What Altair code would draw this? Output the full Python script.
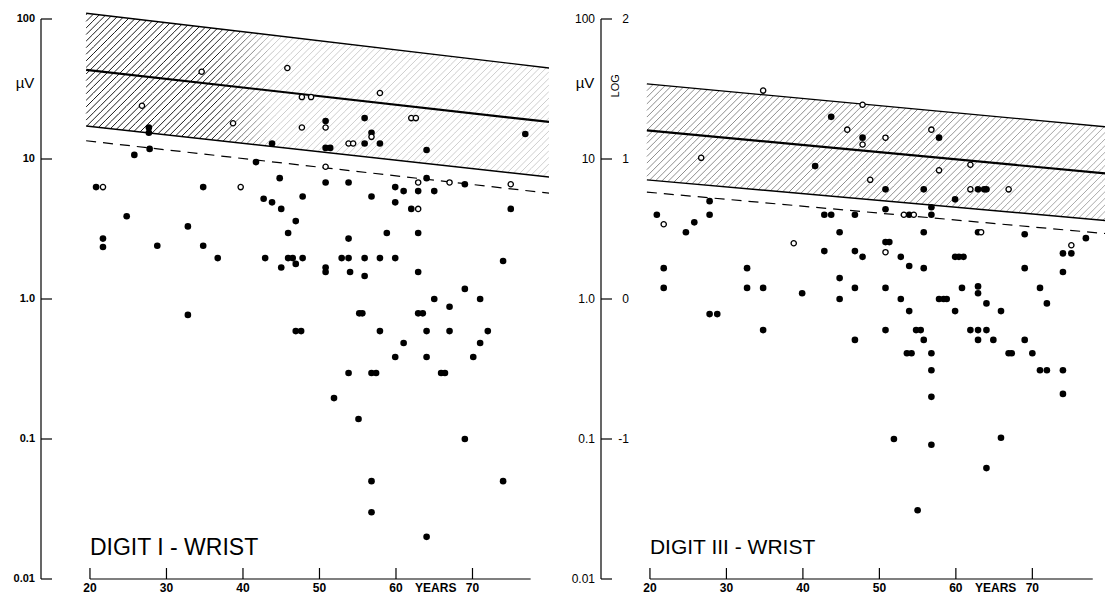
import altair as alt
import numpy as np
import pandas as pd

FONT = "Liberation Sans"
PX_YEAR = 7.65          # screen pixels per year of age
PX_DECADE = 140.0       # screen pixels per decade of amplitude
AGE_LO = 13.6
UV_LO = 0.01
UV_HI = 10 ** (2 + 12 / PX_DECADE)
H = int(round(np.log10(UV_HI / UV_LO) * PX_DECADE))

# ---------------- Digit I - wrist ----------------
d1_filled_age = [27.7, 27.7, 43.8, 27.8, 25.8, 41.7, 20.8, 34.8, 44.8, 42.7, 43.8, 45.0, 46.9,
                 24.8, 32.8, 45.9, 21.7, 21.7, 28.8, 34.8, 36.7, 42.9, 45.9, 46.5, 46.9, 45.0,
                 50.8, 55.9, 56.8, 55.9, 57.9, 50.8, 51.4, 64.0, 76.9,
                 50.8, 53.8, 64.0, 69.0, 59.9, 61.0, 62.9, 65.0, 56.8, 47.8, 59.9, 62.0, 75.0,
                 58.8, 62.9, 53.8, 47.8, 52.9, 53.8, 55.9, 57.9, 59.9, 74.0, 50.8, 50.8, 54.0,
                 55.9, 62.9, 69.0, 65.0, 71.0, 67.0, 55.2, 55.6, 62.9, 63.5, 32.8, 46.9, 47.6,
                 57.9, 64.0, 67.0, 72.0, 61.0, 71.0, 59.9, 64.0, 70.1, 53.8, 56.8, 57.4, 65.9,
                 66.4, 51.9, 55.1, 69.0, 56.8, 74.0, 56.8, 64.0]
d1_filled_uv = [16.8, 15.4, 12.9, 11.8, 10.7, 9.5, 6.3, 6.3, 7.3, 5.2, 4.9, 4.4, 3.6,
                3.9, 3.3, 2.96, 2.7, 2.35, 2.4, 2.4, 1.96, 1.96, 1.96, 1.96, 1.78, 1.68,
                18.7, 19.6, 15.4, 12.9, 12.9, 12.0, 12.0, 11.6, 15.1,
                6.8, 6.8, 7.3, 6.6, 6.3, 5.9, 5.9, 5.9, 5.4, 5.4, 4.9, 4.4, 4.4,
                2.96, 2.96, 2.7, 1.96, 1.96, 1.96, 1.96, 1.96, 1.96, 1.87, 1.68, 1.56, 1.56,
                1.46, 1.56, 1.18, 1.0, 1.0, 0.88, 0.79, 0.79, 0.79, 0.79, 0.77, 0.59, 0.59,
                0.59, 0.59, 0.59, 0.59, 0.485, 0.485, 0.385, 0.385, 0.385, 0.296, 0.296, 0.296, 0.296,
                0.296, 0.196, 0.139, 0.1, 0.05, 0.05, 0.03, 0.02]
d1_open_age = [34.6, 45.8, 26.8, 38.7, 57.9, 47.7, 48.9, 47.7, 50.8, 56.8, 53.8, 54.4, 62.0,
               62.6, 50.8, 62.9, 67.0, 75.0, 62.9, 21.7, 39.7]
d1_open_uv = [42.0, 44.7, 24.0, 18.0, 29.6, 27.7, 27.7, 16.8, 16.8, 14.4, 12.9, 12.9, 19.6,
              19.6, 8.8, 6.8, 6.8, 6.6, 4.4, 6.3, 6.3]
# normal range (upper, mean, lower) and lower limit, at both ends of the age span
d1_band_age = [19.5, 80.0]
d1_upper = [110.0, 44.7]
d1_mean = [43.3, 18.4]
d1_lower = [17.2, 7.44]
d1_limit = [13.5, 5.7]

# ---------------- Digit III - wrist ----------------
d3_filled_age = [43.7, 47.8, 57.8, 41.6, 50.8, 55.8, 62.9, 63.7, 64.0, 59.9, 27.8, 50.8, 56.8,
                 56.8, 53.9, 20.9, 27.8, 42.8, 43.7, 46.8, 25.8, 24.7, 44.8, 55.8, 62.9, 69.0,
                 77.0, 50.8, 51.3, 42.8, 46.8, 47.8, 52.8, 59.9, 60.4, 61.0, 74.0, 75.1, 53.9,
                 55.8, 69.0, 74.0, 21.8, 32.7, 44.8, 21.8, 32.7, 34.8, 39.9, 46.8, 50.8, 60.8,
                 62.9, 62.9, 71.0, 44.8, 52.8, 57.8, 58.4, 58.8, 64.0, 71.9, 53.9, 59.9, 65.9,
                 27.8, 28.8, 34.8, 50.8, 54.8, 55.4, 61.9, 62.9, 64.0, 46.8, 55.8, 62.9, 64.9,
                 69.0, 53.6, 54.2, 56.8, 66.9, 67.3, 70.0, 71.0, 71.9, 74.0, 56.8, 56.8, 74.0,
                 51.9, 56.8, 65.9, 64.0, 55.0]
d3_filled_uv = [20.0, 14.2, 14.2, 8.9, 6.07, 6.07, 6.07, 6.07, 6.07, 5.15, 5.0, 4.38, 4.52,
                4.0, 4.0, 4.0, 4.0, 4.0, 4.0, 4.0, 3.53, 3.0, 3.0, 3.0, 3.0, 2.9,
                2.72, 2.55, 2.55, 2.2, 2.2, 2.0, 2.0, 2.0, 2.0, 2.0, 2.12, 2.12, 1.72,
                1.66, 1.66, 1.56, 1.66, 1.66, 1.41, 1.2, 1.2, 1.2, 1.1, 1.2, 1.2, 1.2,
                1.23, 1.1, 1.2, 1.0, 1.0, 1.0, 1.0, 1.0, 0.93, 0.93, 0.82, 0.82, 0.82,
                0.78, 0.78, 0.6, 0.6, 0.6, 0.6, 0.6, 0.6, 0.6, 0.51, 0.51, 0.51, 0.51,
                0.51, 0.41, 0.41, 0.41, 0.41, 0.41, 0.41, 0.31, 0.31, 0.31, 0.31, 0.2, 0.21,
                0.1, 0.091, 0.102, 0.062, 0.031]
d3_open_age = [34.8, 47.8, 45.8, 47.8, 50.8, 56.8, 26.7, 48.8, 57.8, 61.9, 61.9, 66.9, 53.2,
               54.5, 63.3, 75.1, 21.8, 38.8, 50.8]
d3_open_uv = [30.8, 24.4, 16.2, 12.7, 14.2, 16.2, 10.2, 7.1, 8.3, 9.1, 6.07, 6.07, 4.0,
              4.0, 3.0, 2.42, 3.42, 2.5, 2.16]
d3_band_age = [19.6, 80.0]
d3_upper = [34.4, 16.9]
d3_mean = [16.0, 7.85]
d3_lower = [7.1, 3.62]
d3_limit = [5.8, 2.92]

# ---------------- axes ----------------
y_tick_values = [100, 10, 1, 0.1, 0.01]
y_tick_labels = ["100", "10", "1.0", "0.1", "0.01"]
log_labels = ["2", "1", "0", "-1"]
x_tick_values = [20, 30, 40, 50, 60, 70]
x_tick_labels = ["20", "30", "40", "50", "60", "70"]


def hatch_segments(band_age, lower, upper, fade, spacing=0.86, step=1.0):
    """Diagonal hatching (45 degrees on screen) between the lower and upper bounds."""
    a0, a1 = band_age
    lo0, lo1 = np.log10(lower)
    up0, up1 = np.log10(upper)
    sl = (lo1 - lo0) / (a1 - a0)
    su = (up1 - up0) / (a1 - a0)
    k = PX_YEAR / PX_DECADE
    rows = []
    c = lo1 - k * a1
    c_end = up0 - k * a0
    while c < c_end:
        enter = (lo0 - sl * a0 - c) / (k - sl)
        leave = (up0 - su * a0 - c) / (k - su)
        start, stop = max(a0, enter), min(a1, leave)
        if stop > start:
            n = max(1, int(np.ceil((stop - start) / step)))
            edges = np.linspace(start, stop, n + 1)
            for s, e in zip(edges[:-1], edges[1:]):
                rows.append({"age": s, "uv": 10 ** (c + k * s),
                             "age2": e, "uv2": 10 ** (c + k * e),
                             "shade": float(fade((s + e) / 2))})
        c += k * spacing
    return pd.DataFrame(rows)


def panel(filled_age, filled_uv, open_age, open_uv, band_age, upper, mean, lower, limit,
          age_max, width, axis_end, title, title_size, label_bold, fade, log_side):
    xs = alt.Scale(domain=[AGE_LO, age_max], nice=False, zero=False)
    ys = alt.Scale(type="log", domain=[UV_LO, UV_HI], nice=False)
    X = alt.X("age:Q", scale=xs, axis=None)
    Y = alt.Y("uv:Q", scale=ys, axis=None)

    hatch = alt.Chart(hatch_segments(band_age, lower, upper, fade)).mark_rule(
        clip=True, color="black", strokeWidth=0.9
    ).encode(x=X, y=Y, x2="age2:Q", y2="uv2:Q", opacity=alt.Opacity("shade:Q", scale=None))

    lines = pd.DataFrame({
        "age": band_age * 3,
        "uv": upper + mean + lower,
        "line": ["upper"] * 2 + ["mean"] * 2 + ["lower"] * 2,
        "w": [1.4] * 2 + [2.2] * 2 + [1.4] * 2,
    })
    band = alt.Chart(lines).mark_line(clip=True, color="black").encode(
        x=X, y=Y, detail="line:N", strokeWidth=alt.StrokeWidth("w:Q", scale=None))
    dashed = alt.Chart(pd.DataFrame({"age": band_age, "uv": limit})).mark_line(
        clip=True, color="black", strokeWidth=1.2, strokeDash=[10, 7]).encode(x=X, y=Y)

    dots = alt.Chart(pd.DataFrame({"age": filled_age, "uv": filled_uv})).mark_circle(
        size=44, color="black", opacity=1).encode(x=X, y=Y)
    rings = alt.Chart(pd.DataFrame({"age": open_age, "uv": open_uv})).mark_point(
        shape="circle", filled=True, fill="white", stroke="black", strokeWidth=1.3,
        size=28, opacity=1).encode(x=X, y=Y)

    # vertical axis: line, inward ticks, labels
    yaxis = alt.Chart(pd.DataFrame({"uv": [min(y_tick_values)], "uv2": [max(y_tick_values)]})).mark_rule(
        color="black", strokeWidth=1.2).encode(x=alt.value(0), y=Y, y2="uv2:Q")
    yt = pd.DataFrame({"uv": y_tick_values, "label": y_tick_labels})
    yticks = alt.Chart(yt).mark_rule(color="black", strokeWidth=1.2).encode(
        x=alt.value(0), x2=alt.value(11), y=Y)
    ylabels = alt.Chart(yt).mark_text(
        align="right", baseline="middle", font=FONT, fontSize=11 if label_bold else 12,
        fontWeight="bold" if label_bold else "normal", color="black"
    ).encode(x=alt.value(-6), y=Y, text="label:N")

    # horizontal axis: line, inward ticks, labels
    xaxis = alt.Chart(pd.DataFrame({"age": [x_tick_values[0]], "age2": [axis_end]})).mark_rule(
        color="black", strokeWidth=1.2).encode(x=X, x2="age2:Q", y=alt.value(H))
    xt = pd.DataFrame({"age": x_tick_values, "label": x_tick_labels})
    xticks = alt.Chart(xt).mark_rule(color="black", strokeWidth=1.2).encode(
        x=X, y=alt.value(H), y2=alt.value(H - 11))
    xlabels = alt.Chart(
        pd.concat([xt, pd.DataFrame({"age": [65.2], "label": ["YEARS"]})])
    ).mark_text(align="center", baseline="top", font=FONT, fontSize=12, fontWeight="bold",
                color="black").encode(x=X, y=alt.value(H + 4), text="label:N")

    name = alt.Chart(pd.DataFrame({"age": [20.0], "uv": [0.0166], "t": [title]})).mark_text(
        align="left", baseline="middle", font=FONT, fontSize=title_size, color="black"
    ).encode(x=X, y=Y, text="t:N")

    unit = alt.Chart(pd.DataFrame({"uv": [34.9], "t": ["µV"]})).mark_text(
        align="center", baseline="middle", font=FONT, fontSize=15, color="black"
    ).encode(x=alt.value(-16), y=Y, text="t:N")

    layers = [hatch, band, dashed, dots, rings, yaxis, yticks, ylabels,
              xaxis, xticks, xlabels, name, unit]

    if log_side:
        lt = pd.DataFrame({"uv": y_tick_values[:4], "label": log_labels})
        layers.append(alt.Chart(lt).mark_text(
            align="right", baseline="middle", font=FONT, fontSize=12, color="black"
        ).encode(x=alt.value(28), y=Y, text="label:N"))
        layers.append(alt.Chart(pd.DataFrame({"uv": [33.3], "t": ["LOG"]})).mark_text(
            align="center", baseline="middle", font=FONT, fontSize=11, color="black",
            angle=270
        ).encode(x=alt.value(15), y=Y, text="t:N"))

    return alt.layer(*layers).properties(width=width, height=H)


left = panel(d1_filled_age, d1_filled_uv, d1_open_age, d1_open_uv, d1_band_age,
             d1_upper, d1_mean, d1_lower, d1_limit, 80.0, 508, 77.6,
             "DIGIT I - WRIST", 23, True,
             lambda a: np.interp(a, [36, 44], [1.0, 0.22]), False)
right = panel(d3_filled_age, d3_filled_uv, d3_open_age, d3_open_uv, d3_band_age,
              d3_upper, d3_mean, d3_lower, d3_limit, 79.5, 504, 77.9,
              "DIGIT III - WRIST", 21, False,
              lambda a: np.interp(a, [55, 75], [0.5, 0.38]), True)

chart = alt.hconcat(left, right, spacing=52, bounds="flush").properties(
    padding={"left": 13, "top": 7, "right": 0, "bottom": 0}
).configure_view(stroke=None)

chart.save("out.html", embed_options={"renderer": "svg", "actions": False})
